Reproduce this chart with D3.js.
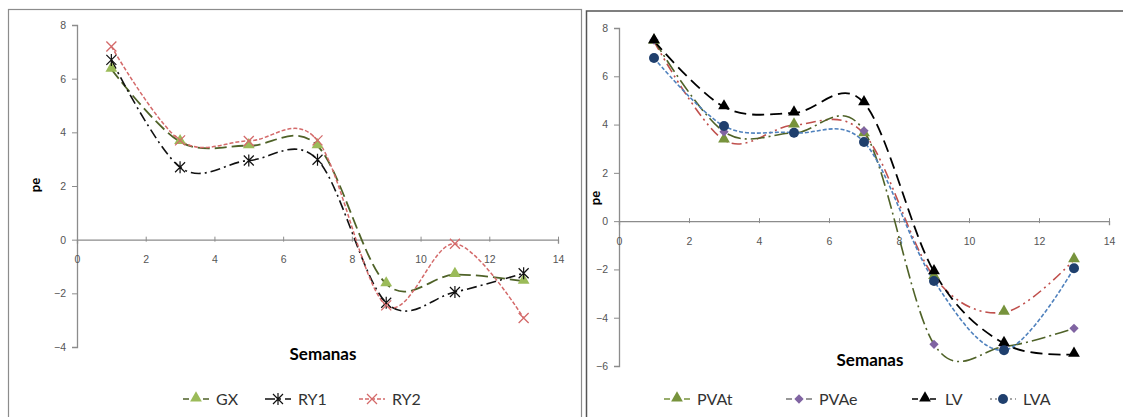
<!DOCTYPE html>
<html>
<head>
<meta charset="utf-8">
<script src="https://cdn.jsdelivr.net/npm/d3@7"></script>
<style>
  body { margin: 0; background: #fff; }
  svg { display: block; font-family: Lato, "Open Sans", sans-serif; }
</style>
</head>
<body>
<script>
var W = 1123, H = 417;

// weeks (x values)
var weeks = [1, 3, 5, 7, 9, 11, 13];
var xTicks = [0, 2, 4, 6, 8, 10, 12, 14];

// left chart series
var gx  = [6.35, 3.65, 3.5, 3.5, -1.65, -1.3, -1.55];
var ry1 = [6.7, 2.7, 2.95, 2.98, -2.35, -1.95, -1.25];
var ry2 = [7.2, 3.7, 3.68, 3.7, -2.45, -0.15, -2.92];
var leftTicks = [-4, -2, 0, 2, 4, 6, 8];

// right chart series
var pvat = [7.45, 3.36, 3.98, 3.62, -2.3, -3.78, -1.6];
var pvae = [7.5, 3.7, 3.65, 3.74, -5.1, -5.2, -4.44];
var lv   = [7.47, 4.73, 4.48, 4.9, -2.1, -5.07, -5.52];
var lva  = [6.76, 3.94, 3.66, 3.28, -2.48, -5.35, -1.95];
var rightTicks = [-6, -4, -2, 0, 2, 4, 6, 8];

var svg = d3.select('body').append('svg').attr('width', W).attr('height', H);

// panel borders
svg.append('rect').attr('x', 8.5).attr('y', 9.5).attr('width', 573).attr('height', 420)
  .attr('fill', 'none').attr('stroke', '#8c8c8c').attr('stroke-width', 1.2);
svg.append('rect').attr('x', 586.5).attr('y', 11).attr('width', 545).attr('height', 420)
  .attr('fill', 'none').attr('stroke', '#555').attr('stroke-width', 1.5);

function marker(g, type, x, y, fill) {
  if (type === 'triangle') {
    g.append('path').attr('d', d3.symbol(d3.symbolTriangle, 60)()).attr('transform', 'translate(' + x + ',' + (y - 1) + ')').attr('fill', fill);
  } else if (type === 'diamond') {
    g.append('path').attr('d', d3.symbol(d3.symbolDiamond2, 55)()).attr('transform', 'translate(' + x + ',' + y + ')').attr('fill', fill);
  } else if (type === 'circle') {
    g.append('circle').attr('cx', x).attr('cy', y).attr('r', 5).attr('fill', fill);
  } else if (type === 'star') {
    var s = 5;
    g.append('path').attr('d', 'M' + (x - s) + ',' + (y - s) + 'L' + (x + s) + ',' + (y + s) + 'M' + (x - s) + ',' + (y + s) + 'L' + (x + s) + ',' + (y - s) + 'M' + x + ',' + (y - s - 1) + 'L' + x + ',' + (y + s + 1))
      .attr('stroke', fill).attr('stroke-width', 1.2).attr('fill', 'none');
  } else if (type === 'x') {
    var t = 5;
    g.append('path').attr('d', 'M' + (x - t) + ',' + (y - t) + 'L' + (x + t) + ',' + (y + t) + 'M' + (x - t) + ',' + (y + t) + 'L' + (x + t) + ',' + (y - t))
      .attr('stroke', fill).attr('stroke-width', 1.3).attr('fill', 'none');
  }
}

function chart(cfg) {
  var x = d3.scaleLinear().domain([0, 14]).range(cfg.xr);
  var y = d3.scaleLinear().domain(cfg.yd).range(cfg.yr);
  var g = svg.append('g');

  // y axis
  var ya = g.append('g').attr('transform', 'translate(' + cfg.xr[0] + ',0)')
    .call(d3.axisLeft(y).tickValues(cfg.yTicks).tickSize(5).tickPadding(6));
  // x axis at zero
  var xa = g.append('g').attr('transform', 'translate(0,' + y(0) + ')')
    .call(d3.axisBottom(x).tickValues(xTicks).tickSize(4).tickPadding(8));
  xa.selectAll('text').attr('dy', '1.1em');
  [ya, xa].forEach(function (a) {
    a.select('.domain').attr('stroke', '#8c8c8c').attr('stroke-width', 1.3);
    a.selectAll('.tick line').attr('stroke', '#8c8c8c');
    a.selectAll('text').attr('fill', '#555').attr('font-size', 10.5);
  });
  xa.selectAll('.tick line').attr('y1', -3).attr('y2', 2);

  var line = d3.line().x(function (d, i) { return x(weeks[i]); }).y(function (d) { return y(d); })
    .curve(d3.curveCardinal.tension(0));

  cfg.series.forEach(function (s) {
    g.append('path').datum(s.values).attr('d', line).attr('fill', 'none')
      .attr('stroke', s.lineColor).attr('stroke-width', s.lw || 1.8).attr('stroke-dasharray', s.dash);
  });
  cfg.series.forEach(function (s) {
    s.values.forEach(function (v, i) { marker(g, s.marker, x(weeks[i]), y(v), s.markerColor); });
  });

  // axis titles
  g.append('text').attr('transform', 'translate(' + cfg.peX + ',' + cfg.peY + ') rotate(-90)')
    .attr('text-anchor', 'middle').attr('font-weight', 'bold').attr('font-size', 13).text('pe');
  g.append('text').attr('x', cfg.semX).attr('y', cfg.semY).attr('text-anchor', 'middle')
    .attr('font-weight', 'bold').attr('font-size', 17).text('Semanas');

  // legend
  cfg.series.forEach(function (s, i) {
    var lx = cfg.legX[i], ly = cfg.legY;
    g.append('line').attr('x1', lx).attr('x2', lx + 26).attr('y1', ly).attr('y2', ly)
      .attr('stroke', s.legColor || s.lineColor).attr('stroke-width', 1.6).attr('stroke-dasharray', s.legDash || s.dash);
    marker(g, s.marker, lx + 13, ly, s.markerColor);
    g.append('text').attr('x', lx + 33).attr('y', ly + 6).attr('font-size', 16).attr('fill', '#333').text(s.name);
  });
}

chart({
  xr: [77, 558], yd: [-4, 8], yr: [347, 25], yTicks: leftTicks,
  peX: 40, peY: 185, semX: 323, semY: 360, legX: [183, 265, 359], legY: 399,
  series: [
    { name: 'GX', values: gx, marker: 'triangle', markerColor: '#9bbb59', lineColor: '#4f6228', dash: '12,5', legDash: '6,4' },
    { name: 'RY1', values: ry1, marker: 'star', markerColor: '#111', lineColor: '#111', dash: '10,4,2,4', lw: 1.6 },
    { name: 'RY2', values: ry2, marker: 'x', markerColor: '#d46a6a', lineColor: '#d46a6a', dash: '4,2', lw: 1.5 }
  ]
});

chart({
  xr: [619, 1109], yd: [-6, 8], yr: [366, 28], yTicks: rightTicks,
  peX: 600, peY: 198, semX: 870, semY: 366, legX: [664, 786, 912, 990], legY: 399,
  series: [
    { name: 'PVAt', values: pvat, marker: 'triangle', markerColor: '#77933c', lineColor: '#c0504d', dash: '10,4,2,4,2,4', lw: 1.6, legColor: '#77933c', legDash: '6,4' },
    { name: 'PVAe', values: pvae, marker: 'diamond', markerColor: '#8064a2', lineColor: '#4f6228', dash: '14,4,2,4', lw: 1.6, legColor: '#777', legDash: '6,4' },
    { name: 'LV', values: lv, marker: 'triangle', markerColor: '#000', lineColor: '#000', dash: '12,6', lw: 1.8, legDash: '6,3' },
    { name: 'LVA', values: lva, marker: 'circle', markerColor: '#1f3f6d', lineColor: '#4f81bd', dash: '4,2', lw: 1.6, legColor: '#888', legDash: '2,3' }
  ]
});
</script>
</body>
</html>
